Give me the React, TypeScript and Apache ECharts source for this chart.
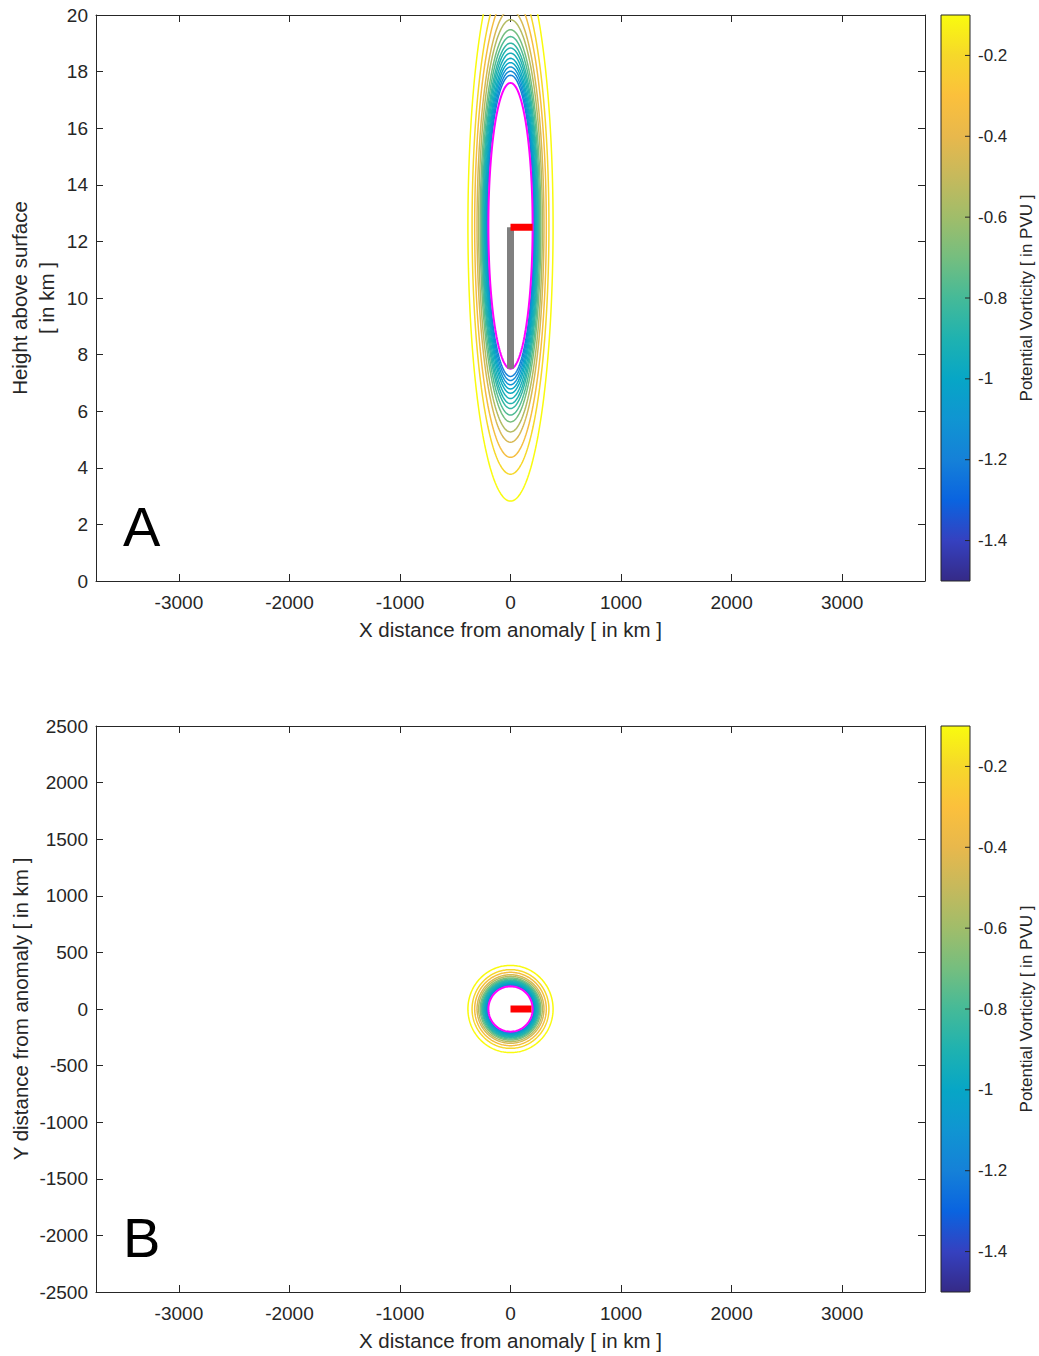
import React, { useEffect, useRef } from "react";
import * as echarts from "echarts";

// ---------- data ----------
const xRange = [-3750, 3750];
const xTicks = [-3000, -2000, -1000, 0, 1000, 2000, 3000];
const heightRange = [0, 20];
const yRange = [-2500, 2500];
const pvRange = [-1.5, -0.1];
const pvTicks = [-1.4, -1.2, -1.0, -0.8, -0.6, -0.4, -0.2];

// contour PV levels (inner -> outer) and their size relative to the anomaly boundary
const pvLevels = [-1.2, -1.15, -1.1, -1.0, -0.97, -0.93, -0.9, -0.85, -0.78, -0.7, -0.55, -0.45, -0.33, -0.2, -0.1];
const contourRatio = [1.054, 1.082, 1.112, 1.142, 1.172, 1.208, 1.244, 1.278, 1.324, 1.372, 1.442, 1.514, 1.62, 1.738, 1.926];

// anomaly boundary (magenta) : centre and semi-axes
const sectionCentre = [0, 12.55]; // km, km
const sectionSemiAxes = [200, 5.05]; // km, km
const planCentre = [0, 0];
const planSemiAxes = [200, 200];

// markers
const sectionRedBar = [[0, 12.5], [200, 12.5]];
const sectionGrayBar = [[0, 7.5], [0, 12.5]];
const planRedBar = [[0, 0], [190, 0]];

// parula-like colour stops sampled from the colour bar
const parulaStops: [number, string][] = [
  [-1.5, "#352a87"], [-1.4, "#3541c0"], [-1.3, "#0a64e0"], [-1.2, "#1581d8"],
  [-1.1, "#1095d2"], [-1.0, "#07a6c6"], [-0.9, "#1fb2b0"], [-0.8, "#45ba98"],
  [-0.7, "#75be7f"], [-0.6, "#a0bd6a"], [-0.5, "#c6b95c"], [-0.4, "#e8b84c"],
  [-0.3, "#fbc03c"], [-0.2, "#f6d82a"], [-0.1, "#f9fb0e"],
];

// ---------- helpers ----------
function hexToRgb(h: string) {
  const n = parseInt(h.slice(1), 16);
  return [(n >> 16) & 255, (n >> 8) & 255, n & 255];
}
function colorFor(v: number) {
  for (let i = 0; i < parulaStops.length - 1; i++) {
    const [v0, c0] = parulaStops[i];
    const [v1, c1] = parulaStops[i + 1];
    if (v >= v0 && v <= v1) {
      const t = (v - v0) / (v1 - v0);
      const a = hexToRgb(c0), b = hexToRgb(c1);
      const c = a.map((x, k) => Math.round(x + (b[k] - x) * t));
      return `rgb(${c[0]},${c[1]},${c[2]})`;
    }
  }
  return v < pvRange[0] ? parulaStops[0][1] : parulaStops[parulaStops.length - 1][1];
}
function ellipse(centre: number[], semi: number[], scale: number) {
  const pts: number[][] = [];
  const N = 240;
  for (let k = 0; k <= N; k++) {
    const t = (k / N) * Math.PI * 2;
    pts.push([centre[0] + semi[0] * scale * Math.cos(t), centre[1] + semi[1] * scale * Math.sin(t)]);
  }
  return pts;
}
const plain = (v: number) => String(+(+v).toFixed(1));

const FONT = "'Liberation Sans', Arial, sans-serif";
const INK = "#262626";

export default function App() {
  const ref = useRef<HTMLDivElement>(null);
  useEffect(() => {
    if (!ref.current) return;
    const chart = echarts.init(ref.current, null, { renderer: "svg" });

    const mainGrid = (top: number) => ({ left: 96, right: 114, top, height: 566, containLabel: false, outerBoundsMode: "none" });
    const cbGrid = (top: number) => ({ left: 941, width: 29, top, height: 566, containLabel: false, outerBoundsMode: "none" });

    const tickLbl = { color: INK, fontSize: 19, fontFamily: FONT };
    const nameStyle = { color: INK, fontSize: 20.5, fontFamily: FONT };

    const xMain = (gridIndex: number) => ({
      type: "value", gridIndex, min: xRange[0], max: xRange[1], position: "bottom",
      name: "X distance from anomaly [ in km ]",
      nameLocation: "middle", nameGap: 38, nameMoveOverlap: false, nameTextStyle: nameStyle,
      axisLine: { show: true, onZero: false, lineStyle: { color: INK, width: 1 } },
      axisTick: { show: true, inside: true, length: 7, customValues: xTicks, lineStyle: { color: INK } },
      axisLabel: { show: true, margin: 12, customValues: xTicks, formatter: plain, ...tickLbl },
      splitLine: { show: false },
    });
    const xMirror = (gridIndex: number) => ({
      type: "value", gridIndex, min: xRange[0], max: xRange[1], position: "top",
      axisLine: { show: true, onZero: false, lineStyle: { color: INK, width: 1 } },
      axisTick: { show: true, inside: true, length: 7, customValues: xTicks, lineStyle: { color: INK } },
      axisLabel: { show: false }, splitLine: { show: false },
    });
    const xHidden = (gridIndex: number) => ({ type: "value", gridIndex, min: 0, max: 1, show: false });

    const yLeft = (gridIndex: number, min: number, max: number, interval: number, name: string, nameGap: number) => ({
      type: "value", gridIndex, min, max, interval, position: "left",
      name, nameLocation: "middle", nameGap, nameRotate: 90, nameMoveOverlap: false,
      nameTextStyle: { ...nameStyle, lineHeight: 27 },
      axisLine: { show: true, onZero: false, lineStyle: { color: INK, width: 1 } },
      axisTick: { show: true, inside: true, length: 7, lineStyle: { color: INK } },
      axisLabel: { show: true, margin: 8, formatter: plain, ...tickLbl },
      splitLine: { show: false },
    });
    const yRight = (gridIndex: number, min: number, max: number, interval: number) => ({
      type: "value", gridIndex, min, max, interval, position: "right",
      axisLine: { show: true, onZero: false, lineStyle: { color: INK, width: 1 } },
      axisTick: { show: true, inside: true, length: 7, lineStyle: { color: INK } },
      axisLabel: { show: false }, splitLine: { show: false },
    });
    const yColorbar = (gridIndex: number) => ({
      type: "value", gridIndex, min: pvRange[0], max: pvRange[1], position: "right",
      name: "Potential Vorticity [ in PVU ]", nameLocation: "middle", nameRotate: 90, nameGap: 48,
      nameMoveOverlap: false,
      nameTextStyle: { color: INK, fontSize: 17, fontFamily: FONT },
      axisLine: { show: false },
      axisTick: { show: false },
      axisLabel: {
        show: true, margin: 8, customValues: pvTicks, color: INK, fontSize: 17, fontFamily: FONT,
        formatter: plain,
      },
      splitLine: { show: false },
    });

    const gradient = new echarts.graphic.LinearGradient(
      0, 0, 0, 1,
      parulaStops.slice().reverse().map(([v, c]) => ({ offset: (pvRange[1] - v) / (pvRange[1] - pvRange[0]), color: c }))
    );
    const colorbarSeries = (axisIdx: number) => ({
      type: "custom", xAxisIndex: axisIdx, yAxisIndex: axisIdx, silent: true, z: 1,
      data: [[0, pvRange[0], 1, pvRange[1]]],
      renderItem: (_p: any, api: any) => {
        const p0 = api.coord([api.value(0), api.value(3)]);
        const p1 = api.coord([api.value(2), api.value(1)]);
        const children: any[] = [
          {
            type: "rect",
            shape: { x: p0[0], y: p0[1], width: p1[0] - p0[0], height: p1[1] - p0[1] },
            style: { fill: gradient, stroke: INK, lineWidth: 1 },
          },
        ];
        pvTicks.forEach((t) => {
          const q = api.coord([api.value(2), t]);
          children.push({
            type: "line",
            shape: { x1: q[0], y1: q[1], x2: q[0] - 5, y2: q[1] },
            style: { stroke: INK, lineWidth: 1 },
          });
        });
        return { type: "group", children };
      },
    });

    const lineSeries = (axisIdx: number, data: number[][], color: string, width: number, z: number) => ({
      type: "line", xAxisIndex: axisIdx, yAxisIndex: axisIdx, data, showSymbol: false, symbol: "none",
      silent: true, clip: true, z, lineStyle: { color, width, cap: "butt" },
    });

    const series: any[] = [];
    // panel A (axes index 0)
    pvLevels.forEach((lv, i) => series.push(lineSeries(0, ellipse(sectionCentre, sectionSemiAxes, contourRatio[i]), colorFor(lv), 1.5, 2)));
    series.push(lineSeries(0, ellipse(sectionCentre, sectionSemiAxes, 1), "#ff00ff", 2, 3));
    series.push(lineSeries(0, sectionGrayBar, "#808080", 7, 4));
    series.push(lineSeries(0, sectionRedBar, "#ff0000", 7, 5));
    // panel B (axes index 3)
    pvLevels.forEach((lv, i) => series.push(lineSeries(3, ellipse(planCentre, planSemiAxes, contourRatio[i]), colorFor(lv), 1.5, 2)));
    series.push(lineSeries(3, ellipse(planCentre, planSemiAxes, 1), "#ff00ff", 2, 3));
    series.push(lineSeries(3, planRedBar, "#ff0000", 7, 5));
    // colour bars
    series.push(colorbarSeries(2));
    series.push(colorbarSeries(5));

    chart.setOption({
      animation: false,
      backgroundColor: "#ffffff",
      textStyle: { fontFamily: FONT },
      grid: [mainGrid(15), mainGrid(15), cbGrid(15), mainGrid(726), mainGrid(726), cbGrid(726)],
      xAxis: [xMain(0), xMirror(1), xHidden(2), xMain(3), xMirror(4), xHidden(5)],
      yAxis: [
        yLeft(0, heightRange[0], heightRange[1], 2, "Height above surface\n[ in km ]", 36),
        yRight(1, heightRange[0], heightRange[1], 2),
        yColorbar(2),
        yLeft(3, yRange[0], yRange[1], 500, "Y distance from anomaly [ in km ]", 62),
        yRight(4, yRange[0], yRange[1], 500),
        yColorbar(5),
      ],
      graphic: [
        { type: "text", left: 123, top: 498, style: { text: "A", fontSize: 56, fontFamily: FONT, fill: "#000" }, silent: true },
        { type: "text", left: 123, top: 1209, style: { text: "B", fontSize: 56, fontFamily: FONT, fill: "#000" }, silent: true },
      ],
      series,
    });
    return () => chart.dispose();
  }, []);
  return <div ref={ref} style={{ position: "absolute", left: 0, top: 0, width: 1039, height: 1356 }} />;
}
